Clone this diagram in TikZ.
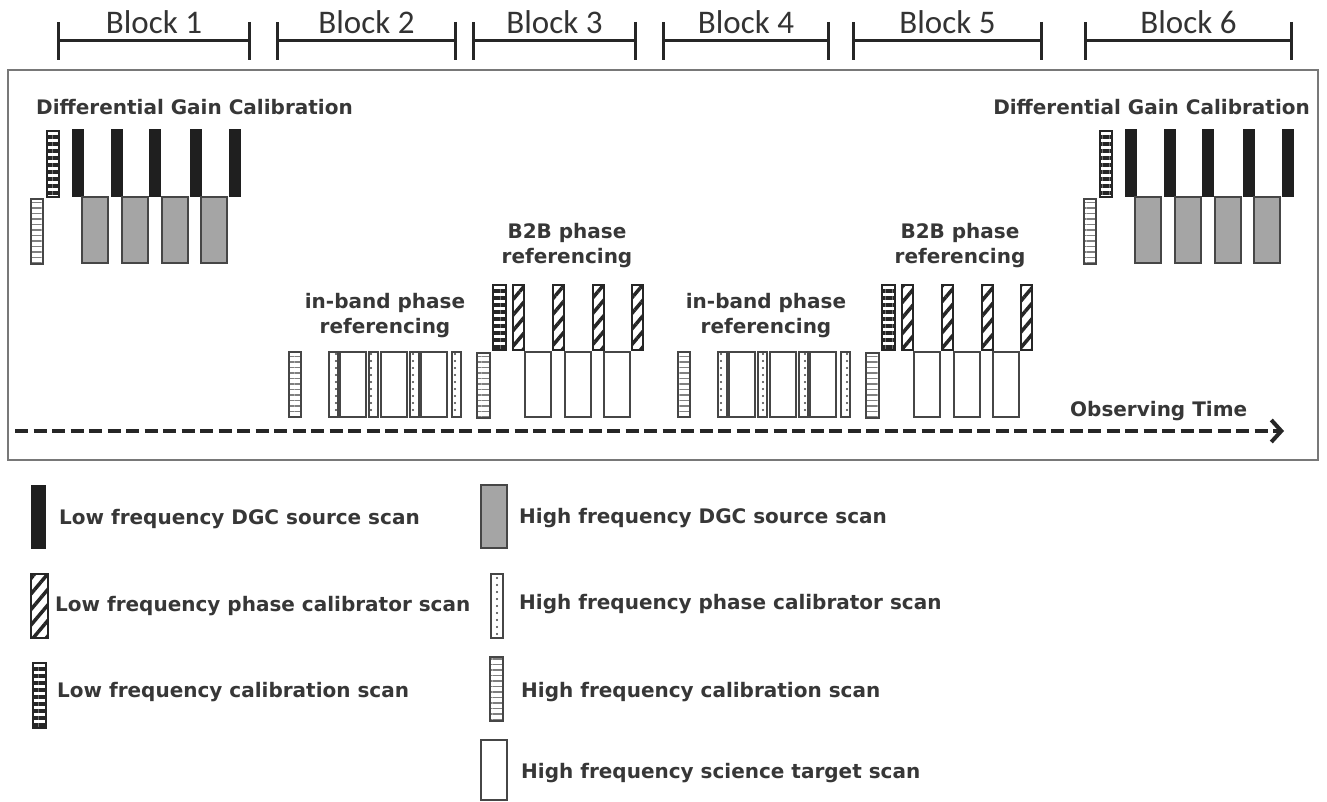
\documentclass[tikz,border=0pt]{standalone}
\usepackage{fontspec}
\setmainfont{DejaVu Sans}
\newfontfamily\blockfont{Carlito}
\usetikzlibrary{arrows.meta,patterns.meta}
\definecolor{txtgray}{RGB}{55,55,55}
\definecolor{framegray}{RGB}{120,120,120}
\definecolor{dgcgray}{RGB}{165,165,165}
\definecolor{edgegray}{RGB}{70,70,70}
\tikzset{
  scanbox/.style={draw=edgegray,line width=1.5pt},
  lowdgc/.style={fill=black!88,draw=black!88,line width=1pt},
  highdgc/.style={scanbox,fill=dgcgray},
  lowcal/.style={scanbox,draw=black!85,pattern={Lines[angle=0,distance=7pt,line width=3.5pt]},pattern color=black!85},
  highcal/.style={scanbox,pattern={Lines[angle=0,distance=5.5pt,line width=1.2pt]},pattern color=gray},
  lowphase/.style={scanbox,draw=black!85,pattern={Lines[angle=50,distance=10pt,line width=3.5pt]},pattern color=black!85},
  highphase/.style={scanbox,pattern={Dots[distance=7pt,radius=1.1pt]},pattern color=black!75},
  sciencebox/.style={scanbox,fill=white},
  blockbar/.style={line width=3pt,black!85,{Bar[width=38pt]}-{Bar[width=38pt]}},
  blocklabel/.style={font=\blockfont\fontsize{33}{33}\selectfont,text=black!80,inner sep=0pt,above=6pt},
  scantext/.style={font=\bfseries\fontsize{20}{25}\selectfont,text=txtgray,align=center,inner sep=0pt},
}
\begin{document}
\begin{tikzpicture}[x=1pt,y=-1pt]
  \useasboundingbox[fill=white] (0,0) rectangle (1327,802);
  % Block bars
  \foreach \a/\b/\n in {57/251/1,276/457/2,472/637/3,662/830/4,852/1043/5,1084/1293/6}
    \draw[blockbar] (\a,41) -- (\b,41) node[midway,blocklabel] (blk\n) {Block \n};
  % Observing frame
  \draw[framegray,line width=1.5pt] (8,70) rectangle (1318,460);
  % Differential gain calibration (start and end)
  \node[scantext,anchor=west] (dgcL) at (36,107) {Differential Gain Calibration};
  \node[scantext,anchor=east] (dgcR) at (1310,107) {Differential Gain Calibration};
  \foreach \s in {0pt,1053pt} {
    \begin{scope}[xshift=\s]
      \draw[highcal] (31,199) rectangle (43,264);
      \draw[lowcal] (47,131) rectangle (59,197);
      \foreach \x in {72,111,149,190,229}
        \draw[lowdgc] (\x,130) rectangle ++(11,67);
      \foreach \x in {82,122,162,201}
        \draw[highdgc] (\x,197) rectangle ++(26,66);
    \end{scope}
  }
  % In-band and B2B phase referencing (blocks 2-3 and 4-5)
  \node[scantext] (ibpA) at (385,316) {in-band phase\\referencing};
  \node[scantext] (b2bA) at (567,246) {B2B phase\\referencing};
  \node[scantext] (ibpB) at (766,316) {in-band phase\\referencing};
  \node[scantext] (b2bB) at (960,246) {B2B phase\\referencing};
  \foreach \s in {0pt,389pt} {
    \begin{scope}[xshift=\s]
      \draw[highcal] (289,352) rectangle (301,417);
      \foreach \x in {329,369,410,452}
        \draw[highphase] (\x,352) rectangle ++(9,65);
      \foreach \x in {340,381,421}
        \draw[sciencebox] (\x,352) rectangle ++(26,65);
      \draw[highcal] (477,353) rectangle (490,418);
      \draw[lowcal] (493,285) rectangle (506,350);
      \foreach \x in {513,553,593,632}
        \draw[lowphase] (\x,285) rectangle ++(11,65);
      \foreach \x in {525,565,604}
        \draw[sciencebox] (\x,352) rectangle ++(26,65);
    \end{scope}
  }
  % Time axis
  \coordinate (tstart) at (15,431);
  \coordinate (tend) at (1284,431);
  \draw[line width=4pt,black!85,dash pattern=on 13pt off 5.5pt,
        -{Straight Barb[length=10pt,width=22pt]}] (tstart) -- (tend);
  \node[scantext,anchor=west] (otime) at (1070,411) {Observing Time};
  % Legend
  \draw[lowdgc] (31,485) rectangle (45,548);
  \node[scantext,anchor=west] (legA) at (59,519) {Low frequency DGC source scan};
  \draw[lowphase] (31,574) rectangle (48,638);
  \node[scantext,anchor=west] (legB) at (55,606) {Low frequency phase calibrator scan};
  \draw[lowcal] (33,663) rectangle (46,728);
  \node[scantext,anchor=west] (legC) at (57,692) {Low frequency calibration scan};
  \draw[highdgc] (481,485) rectangle (507,548);
  \node[scantext,anchor=west] (legD) at (519,518) {High frequency DGC source scan};
  \draw[highphase] (491,574) rectangle (503,638);
  \node[scantext,anchor=west] (legE) at (519,604) {High frequency phase calibrator scan};
  \draw[highcal] (490,657) rectangle (503,721);
  \node[scantext,anchor=west] (legF) at (521,692) {High frequency calibration scan};
  \draw[sciencebox] (481,740) rectangle (507,800);
  \node[scantext,anchor=west] (legG) at (521,773) {High frequency science target scan};
\end{tikzpicture}
\end{document}
